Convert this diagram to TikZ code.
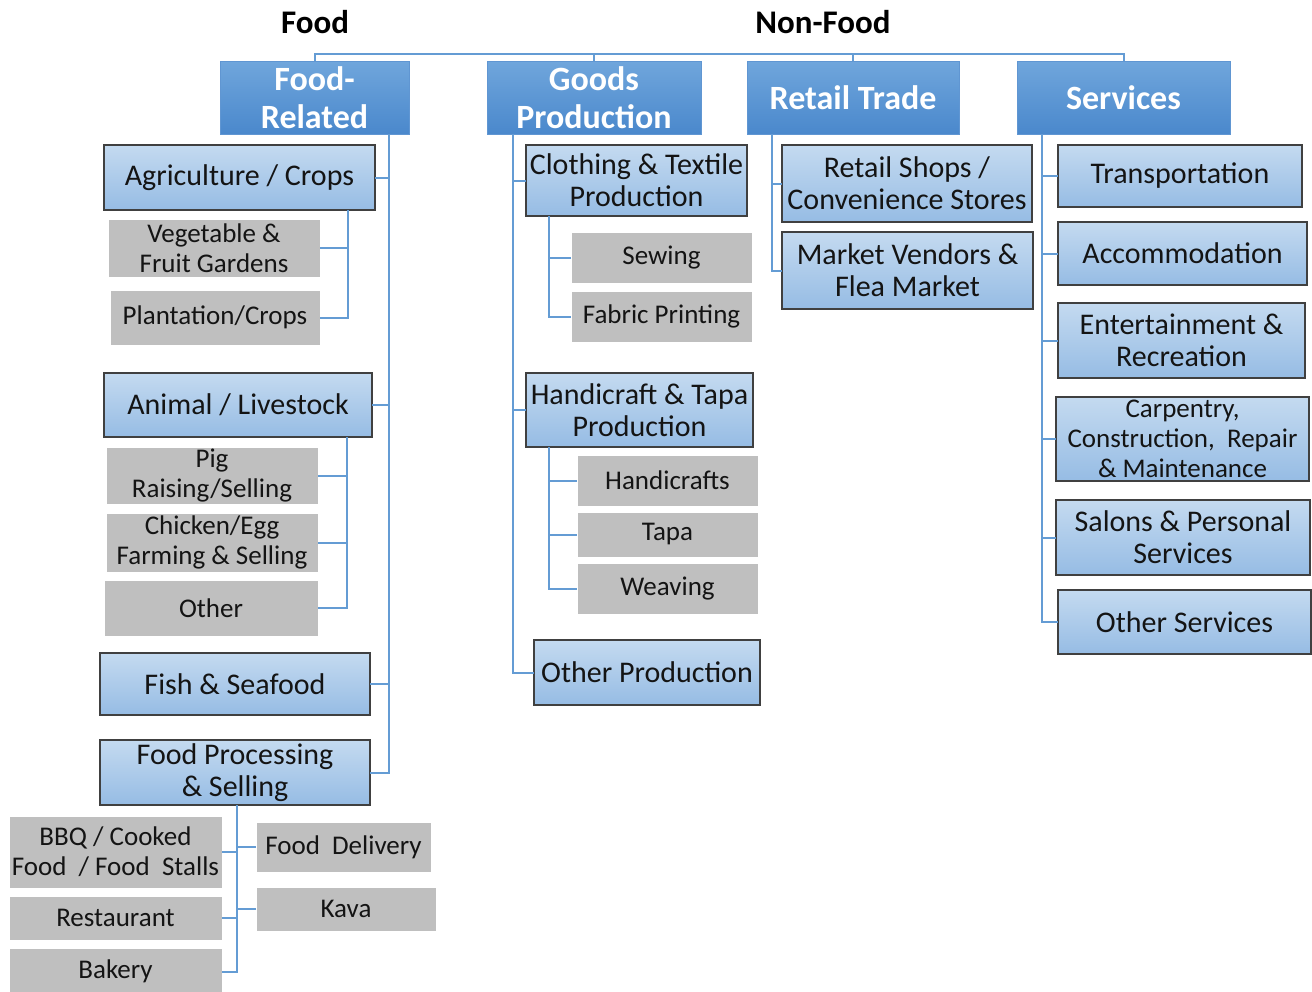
\documentclass[tikz,border=0pt]{standalone}
\usepackage{fontspec}
\setmainfont{Carlito}
\begin{document}
\definecolor{hdrtop}{RGB}{112,166,220}
\definecolor{hdrbot}{RGB}{74,136,204}
\definecolor{hdredge}{RGB}{96,150,210}
\definecolor{lbtop}{RGB}{196,218,240}
\definecolor{lbbot}{RGB}{150,188,228}
\definecolor{lbedge}{RGB}{64,64,64}
\definecolor{grayfill}{RGB}{191,191,191}
\definecolor{connblue}{RGB}{100,156,212}
\definecolor{txt}{RGB}{20,20,20}
\tikzset{
  boxbase/.style={inner sep=0pt, outer sep=0pt, align=center, text=txt},
  hdr/.style={boxbase, top color=hdrtop, bottom color=hdrbot, draw=hdredge, line width=0.8pt,
    text=white, font=\fontsize{34}{38}\selectfont\bfseries},
  lb/.style={boxbase, top color=lbtop, bottom color=lbbot, draw=lbedge, line width=1.2pt,
    font=\fontsize{30}{32}\selectfont},
  lbsmall/.style={lb, font=\fontsize{27}{30}\selectfont},
  gb/.style={boxbase, fill=grayfill, draw=white, line width=0.6pt,
    font=\fontsize{27}{30}\selectfont},
  ttl/.style={inner sep=0pt, font=\fontsize{33}{36}\selectfont\bfseries, text=black},
  conn/.style={draw=connblue, line width=2pt}
}
% box from its corners: style, name, x1, y1, x2, y2, text
\newcommand{\boxat}[7]{%
  \node[#1, minimum width={(#5)-(#3)}, minimum height={(#6)-(#4)}] (#2)
    at ({((#3)+(#5))/2},{((#4)+(#6))/2}) {#7};}
\begin{tikzpicture}[x=1pt,y=-1pt]
\useasboundingbox (0,0) rectangle (1312,991);

% group titles
\node[ttl] (tfood) at (315,22) {Food};
\node[ttl] (tnon) at (823,22) {Non-Food};

% top-level categories
\boxat{hdr}{fr}{220}{61}{409}{134}{Food-\\Related}
\boxat{hdr}{gp}{487}{61}{701}{134}{Goods\\Production}
\boxat{hdr}{rt}{747}{61}{959}{134}{Retail Trade}
\boxat{hdr}{sv}{1017}{61}{1230}{134}{Services}

% food-related
\boxat{lb}{agri}{104}{145}{375}{210}{Agriculture / Crops}
\boxat{gb}{veg}{108}{219}{320}{277}{Vegetable \&\\Fruit Gardens}
\boxat{gb}{plant}{110}{290}{320}{345}{Plantation/Crops}
\boxat{lb}{anim}{104}{373}{372}{437}{Animal / Livestock}
\boxat{gb}{pig}{106}{447}{318}{504}{Pig\\Raising/Selling}
\boxat{gb}{chick}{106}{513}{318}{572}{Chicken/Egg\\Farming \& Selling}
\boxat{gb}{aoth}{104}{580}{318}{636}{Other}
\boxat{lb}{fish}{100}{653}{370}{715}{Fish \& Seafood}
\boxat{lb}{fproc}{100}{740}{370}{805}{Food Processing\\\& Selling}
\boxat{gb}{bbq}{9}{816}{222}{888}{BBQ / Cooked\\Food~ / Food~ Stalls}
\boxat{gb}{rest}{9}{896}{222}{940}{Restaurant}
\boxat{gb}{bake}{9}{948}{222}{995}{Bakery}
\boxat{gb}{fdel}{256}{822}{431}{872}{Food~ Delivery}
\boxat{gb}{kava}{256}{887}{436}{931}{Kava}

% goods production
\boxat{lb}{cloth}{526}{145}{747}{216}{Clothing \& Textile\\Production}
\boxat{gb}{sew}{571}{232}{752}{283}{Sewing}
\boxat{gb}{fab}{571}{291}{752}{342}{Fabric Printing}
\boxat{lb}{handi}{526}{373}{753}{447}{Handicraft \& Tapa\\Production}
\boxat{gb}{hcr}{577}{455}{758}{506}{Handicrafts}
\boxat{gb}{tapa}{577}{512}{758}{557}{Tapa}
\boxat{gb}{weav}{577}{563}{758}{614}{Weaving}
\boxat{lb}{oprod}{534}{640}{760}{705}{Other Production}

% retail trade
\boxat{lb}{shops}{782}{145}{1032}{222}{Retail Shops /\\Convenience Stores}
\boxat{lb}{mkt}{782}{232}{1033}{309}{Market Vendors \&\\Flea Market}

% services
\boxat{lb}{trans}{1058}{145}{1302}{207}{Transportation}
\boxat{lb}{accom}{1058}{222}{1307}{285}{Accommodation}
\boxat{lb}{ent}{1058}{303}{1305}{378}{Entertainment \&\\Recreation}
\boxat{lbsmall}{carp}{1056}{397}{1309}{481}{Carpentry,\\Construction,~ Repair\\\& Maintenance}
\boxat{lb}{salon}{1056}{500}{1310}{575}{Salons \& Personal\\Services}
\boxat{lb}{osv}{1058}{590}{1311}{654}{Other Services}

% bus lines
\coordinate (rail) at (0,54);
\coordinate (frbus) at (389,134);
\coordinate (agbus) at (348,210);
\coordinate (anbus) at (347,437);
\coordinate (fpbus) at (237,805);
\coordinate (gbus) at (513,134);
\coordinate (cbus) at (549,216);
\coordinate (hbus) at (549,447);
\coordinate (rbus) at (772,134);
\coordinate (sbus) at (1042,134);

% top rail
\draw[conn] (fr.north) -- (fr.north |- rail) -- (sv.north |- rail) -- (sv.north);
\draw[conn] (gp.north) -- (gp.north |- rail);
\draw[conn] (rt.north) -- (rt.north |- rail);

% food-related branch
\draw[conn] (frbus) |- (fproc.east);
\foreach \n in {agri,anim,fish} \draw[conn] (\n.east) -- (\n.east -| frbus);
\draw[conn] (agbus) |- (plant.east);
\draw[conn] (veg.east) -- (veg.east -| agbus);
\draw[conn] (anbus) |- (aoth.east);
\foreach \n in {pig,chick} \draw[conn] (\n.east) -- (\n.east -| anbus);
\draw[conn] (fpbus) |- (bake.east);
\foreach \n in {bbq,rest} \draw[conn] (\n.east) -- (\n.east -| fpbus);
\foreach \n in {fdel,kava} \draw[conn] (\n.west) -- (\n.west -| fpbus);

% goods production branch
\draw[conn] (gbus) |- (oprod.west);
\foreach \n in {cloth,handi} \draw[conn] (\n.west) -- (\n.west -| gbus);
\draw[conn] (cbus) |- (fab.west);
\draw[conn] (sew.west) -- (sew.west -| cbus);
\draw[conn] (hbus) |- (weav.west);
\foreach \n in {hcr,tapa} \draw[conn] (\n.west) -- (\n.west -| hbus);

% retail branch
\draw[conn] (rbus) |- (mkt.west);
\draw[conn] (shops.west) -- (shops.west -| rbus);

% services branch
\draw[conn] (sbus) |- (osv.west);
\foreach \n in {trans,accom,ent,carp,salon} \draw[conn] (\n.west) -- (\n.west -| sbus);
\end{tikzpicture}
\end{document}
